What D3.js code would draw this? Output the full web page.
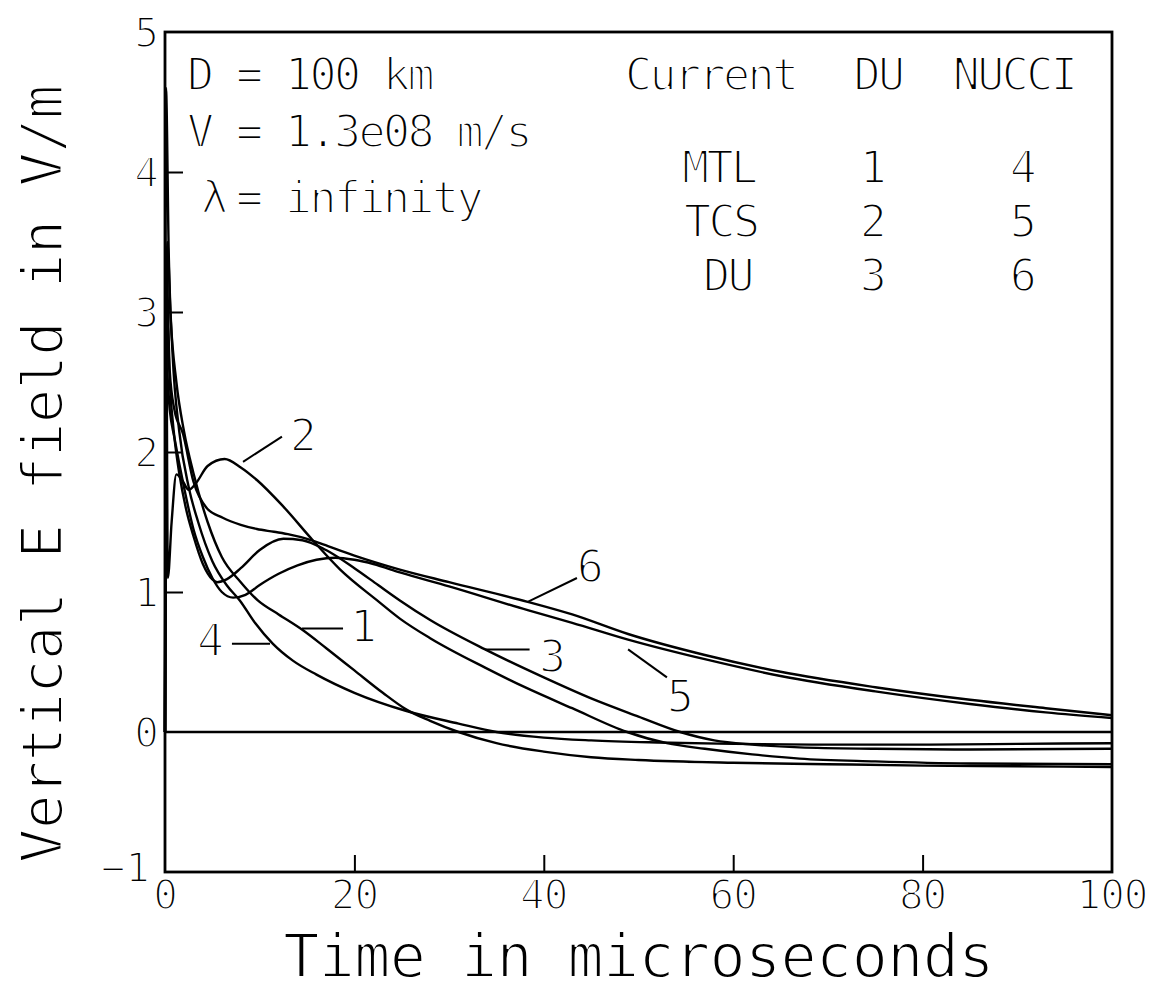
<!DOCTYPE html>
<html><head><meta charset="utf-8">
<script src="https://cdn.jsdelivr.net/npm/d3@7/dist/d3.min.js"></script>
<style>
body{margin:0;background:#fff}
text{font-family:"DejaVu Sans Mono",monospace;fill:#000;stroke:#fff;stroke-width:2px;white-space:pre}
</style>
</head><body><svg id="c" width="1153" height="993"></svg>
<script>
// ---- data ----
const xTicks = [0, 20, 40, 60, 80, 100];
const yTicks = [-1, 0, 1, 2, 3, 4, 5];
const xInner = [20, 40, 60, 80];
const yInner = [1, 2, 3, 4];
// curves: [time (microseconds), E (V/m)]
const curve1 = [[0,0],[0.25,3.5],[0.6,2.95],[1.2,2.5],[2,2.15],[3,1.85],[4.5,1.5],[6,1.25],[8,1.07],[9.8,0.94],[12,0.84],[14.5,0.73],[17,0.6],[20,0.44],[23,0.28],[25.5,0.16],[28,0.08],[31,0.0],[35,-0.08],[40,-0.14],[45,-0.18],[50,-0.2],[60,-0.22],[70,-0.23],[80,-0.24],[90,-0.245],[100,-0.25]];
const curve2 = [[0,0],[0.12,3.2],[0.3,1.1],[0.7,1.5],[1.2,1.84],[1.8,1.8],[2.5,1.73],[3.3,1.78],[4.5,1.9],[6.3,1.95],[8,1.89],[9.7,1.8],[12.5,1.61],[15.6,1.37],[18.5,1.16],[22.4,0.94],[24.8,0.81],[28,0.67],[33.8,0.46],[38,0.32],[43,0.17],[48.8,0.0],[53,-0.08],[57,-0.12],[62,-0.16],[67,-0.19],[75,-0.21],[85,-0.225],[100,-0.23]];
const curve3 = [[0,0],[0.2,3.0],[0.5,2.5],[1,2.1],[1.5,1.85],[2.2,1.6],[3,1.4],[4,1.2],[5,1.09],[5.5,1.07],[6.5,1.09],[8,1.17],[10,1.3],[12.5,1.38],[14.5,1.37],[17,1.3],[20,1.17],[22.5,1.05],[24.8,0.94],[28,0.8],[33.8,0.59],[40,0.39],[45,0.24],[50,0.11],[54.4,0.0],[58,-0.06],[62,-0.09],[67,-0.11],[75,-0.12],[85,-0.125],[100,-0.12]];
const curve4 = [[0,0],[0.1,4.6],[0.4,3.4],[0.8,2.7],[1.5,2.15],[2.5,1.75],[3.5,1.5],[5,1.22],[6.5,1.05],[7.9,0.94],[9.5,0.78],[11.4,0.63],[13.5,0.51],[16,0.41],[20,0.28],[25.5,0.15],[31,0.06],[35,0.0],[40,-0.04],[45,-0.06],[52,-0.075],[60,-0.085],[70,-0.09],[80,-0.09],[90,-0.085],[100,-0.08]];
const curve5 = [[0,0],[0.15,2.6],[0.5,2.3],[1,2.1],[2,1.75],[3,1.45],[4,1.25],[5,1.1],[6,1.0],[7.2,0.96],[8.5,0.98],[10,1.05],[12,1.13],[14,1.19],[16,1.23],[18,1.245],[20,1.23],[22,1.2],[24.8,1.14],[30,1.04],[38.3,0.87],[43,0.78],[48.9,0.66],[57,0.52],[65,0.4],[75,0.29],[85,0.2],[93,0.14],[100,0.1]];
const curve6 = [[0,0],[0.12,3.4],[0.5,2.58],[1,2.3],[1.9,2.13],[3,1.79],[4.4,1.6],[6.1,1.53],[8,1.48],[9.7,1.45],[11.5,1.43],[13.2,1.41],[15,1.38],[16.7,1.34],[20,1.26],[24.8,1.16],[30,1.07],[38.3,0.93],[43,0.84],[48.9,0.7],[57,0.55],[65,0.43],[75,0.32],[85,0.23],[93,0.17],[100,0.12]];
const curves = [curve1, curve2, curve3, curve4, curve5, curve6];
// curve labels: name, leader from, leader to, text anchor (data units)
const curveLabels = [
  {name:"2", from:[8.24,1.93], to:[12.35,2.11], at:[13.5,2.01]},
  {name:"6", from:[38.3,0.93], to:[43.5,1.10], at:[43.8,1.07]},
  {name:"5", from:[48.9,0.59], to:[53.0,0.39], at:[53.3,0.14]},
  {name:"3", from:[33.8,0.59], to:[38.5,0.59], at:[39.8,0.43]},
  {name:"4", from:[7.07,0.63], to:[11.09,0.63], at:[3.7,0.54]},
  {name:"1", from:[14.47,0.74], to:[18.8,0.74], at:[19.85,0.64]}
];
const infoLines = ["D = 100 km", "V = 1.3e08 m/s"];
const lambdaLine = ["λ", "= infinity"];
const tableHeader = ["Current", "DU", "NUCCI"];
const tableRows = [["MTL","1","4"],["TCS","2","5"],["DU","3","6"]];
const xTitle = "Time in microseconds";
const yTitle = "Vertical E field in V/m";

// ---- drawing ----
const svg = d3.select("#c");
const x = d3.scaleLinear().domain([0,100]).range([165,1112]);
const y = d3.scaleLinear().domain([-1,5]).range([872,32]);

// curves
const line = d3.line().x(d=>x(d[0])).y(d=>y(d[1])).curve(d3.curveMonotoneX);
svg.append("g").selectAll("path").data(curves).join("path")
  .attr("d", line).attr("fill","none").attr("stroke","#000").attr("stroke-width",2.4);

// zero line
svg.append("line").attr("x1",x(0)).attr("x2",x(100)).attr("y1",y(0)).attr("y2",y(0))
  .attr("stroke","#000").attr("stroke-width",2.4);

// inner ticks via d3 axes
const gx = svg.append("g").attr("transform",`translate(0,${y(-1)})`)
  .call(d3.axisBottom(x).tickValues(xInner).tickSize(-17).tickFormat(""));
const gy = svg.append("g").attr("transform",`translate(${x(0)},0)`)
  .call(d3.axisLeft(y).tickValues(yInner).tickSize(-18).tickFormat(""));
[gx,gy].forEach(g=>{g.select(".domain").remove(); g.selectAll("line").attr("stroke","#000").attr("stroke-width",2);});

// frame
svg.append("rect").attr("x",x(0)).attr("y",y(5)).attr("width",x(100)-x(0)).attr("height",y(-1)-y(5))
  .attr("fill","none").attr("stroke","#000").attr("stroke-width",2.8);

// tick labels
svg.append("g").selectAll("text").data(xTicks).join("text")
  .attr("x",d=>x(d)).attr("y",y(-1)+37).attr("text-anchor","middle")
  .attr("font-size",41).attr("letter-spacing",-1).text(d=>d);
svg.append("g").selectAll("text").data(yTicks).join("text")
  .attr("x",d=>d<0?x(0)-15:x(0)-6).attr("y",d=>d<0?y(d)+10:y(d)+15).attr("text-anchor","end")
  .attr("font-size",41).text(d=>d<0?"\u2212"+(-d):d);

// axis titles
svg.append("text").attr("x",(x(0)+x(100))/2).attr("y",977).attr("text-anchor","middle")
  .attr("font-size",60).attr("letter-spacing",-0.6).text(xTitle);
svg.append("text").attr("transform",`translate(62,${(y(-1)+y(5))/2+22}) rotate(-90)`).attr("text-anchor","middle")
  .attr("font-size",57).attr("letter-spacing",-0.5).text(yTitle);

// info block
const info = svg.append("g").attr("font-size",45).attr("letter-spacing",-2.6);
info.selectAll("text.l").data(infoLines).join("text").attr("class","l")
  .attr("x",187).attr("y",(d,i)=>90+i*57).text(d=>d);
info.append("text").attr("x",201).attr("y",213).text(lambdaLine[0]);
info.append("text").attr("x",236).attr("y",213).text(lambdaLine[1]);

// table
const tbl = svg.append("g").attr("font-size",45).attr("letter-spacing",-2.6);
tbl.append("text").attr("x",625).attr("y",90).text(tableHeader[0]);
tbl.append("text").attr("x",878).attr("y",90).attr("text-anchor","middle").text(tableHeader[1]);
tbl.append("text").attr("x",1014).attr("y",90).attr("text-anchor","middle").text(tableHeader[2]);
const rowY = [183, 237, 291];
const rowX0 = [682, 684, 703];
tableRows.forEach((r,i)=>{
  tbl.append("text").attr("x",rowX0[i]).attr("y",rowY[i]).text(r[0]);
  tbl.append("text").attr("x",872).attr("y",rowY[i]).attr("text-anchor","middle").text(r[1]);
  tbl.append("text").attr("x",1022).attr("y",rowY[i]).attr("text-anchor","middle").text(r[2]);
});

// curve labels with leaders
const lg = svg.append("g");
lg.selectAll("line").data(curveLabels).join("line")
  .attr("x1",d=>x(d.from[0])).attr("y1",d=>y(d.from[1]))
  .attr("x2",d=>x(d.to[0])).attr("y2",d=>y(d.to[1]))
  .attr("stroke","#000").attr("stroke-width",2);
lg.selectAll("text").data(curveLabels).join("text")
  .attr("x",d=>x(d.at[0])-3).attr("y",d=>y(d.at[1]))
  .attr("font-size",45).text(d=>d.name);
</script>
</body></html>
